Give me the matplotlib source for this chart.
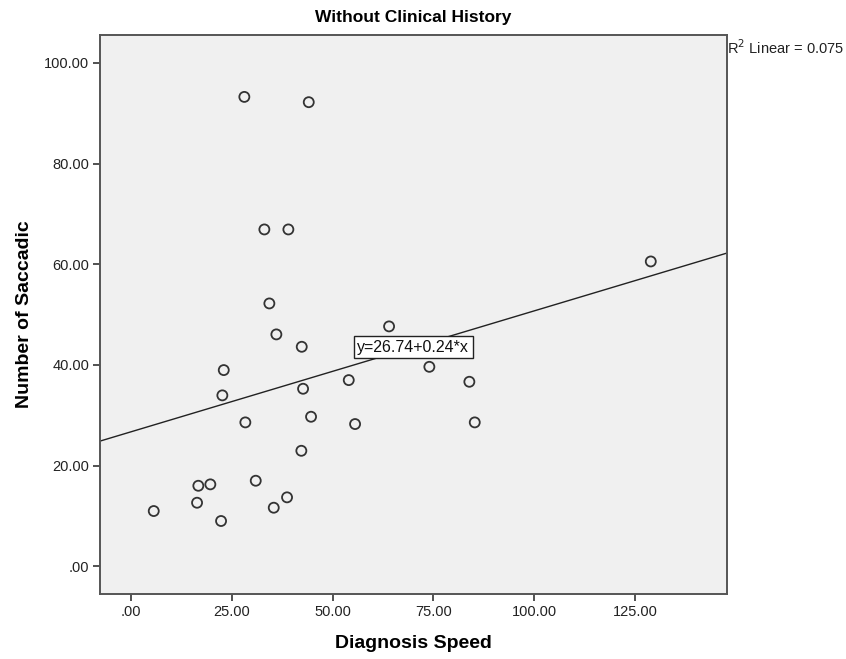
import matplotlib
matplotlib.use("Agg")
import matplotlib.pyplot as plt
import numpy as np

# data
diag_speed = [28.05, 44.04, 33.02, 38.98, 128.95, 34.26, 36.00, 63.98, 42.30, 22.94,
              73.98, 53.97, 83.91, 42.63, 22.59, 44.61, 28.30, 55.54, 85.25, 42.20,
              30.88, 19.61, 16.63, 38.65, 16.31, 5.56, 35.35, 22.27]
n_saccadic = [93.25, 92.20, 66.92, 66.92, 60.56, 52.22, 46.07, 47.66, 43.61, 38.98,
              39.63, 36.99, 36.66, 35.27, 33.96, 29.71, 28.59, 28.26, 28.59, 22.95,
              17.00, 16.28, 16.00, 13.70, 12.63, 10.98, 11.64, 9.00]
intercept = 26.74
slope = 0.24
r2 = 0.075
x_ticks = [0, 25, 50, 75, 100, 125]
y_ticks = [0, 20, 40, 60, 80, 100]

plt.rcParams['font.family'] = ['Liberation Sans', 'DejaVu Sans']

fig = plt.figure(figsize=(8.46, 6.59), dpi=100)
ax = fig.add_axes([0.1186, 0.0991, 0.7404, 0.8482])
ax.set_facecolor('#f0f0f0')

xlim = (-7.7, 147.8)
ylim = (-5.44, 105.6)

# fit line
xs = np.array(xlim)
ax.plot(xs, intercept + slope * xs, color='#222222', lw=1.0, zorder=2)

ax.scatter(diag_speed, n_saccadic, s=52, facecolors='none', edgecolors='#333333',
           linewidths=1.3, zorder=3)

bx = 70
ax.text(bx, intercept + slope * bx, 'y=26.74+0.24*x', ha='center', va='center',
        fontsize=11.5, color='#111111', zorder=4,
        bbox=dict(boxstyle='square,pad=0.22', fc='white', ec='#222222', lw=1.0))

ax.set_xlim(xlim)
ax.set_ylim(ylim)
ax.set_xticks(x_ticks)
ax.set_xticklabels(['.00' if v == 0 else '%.2f' % v for v in x_ticks])
ax.set_yticks(y_ticks)
ax.set_yticklabels(['.00' if v == 0 else '%.2f' % v for v in y_ticks])
ax.tick_params(direction='out', length=5, width=1.2, color='#333333',
               labelsize=10.5, labelcolor='#222222', pad=3)
for sp in ax.spines.values():
    sp.set_color('#555555')
    sp.set_linewidth(1.4)

ax.set_title('Without Clinical History', fontweight='bold', fontsize=12.5, pad=9)
ax.set_xlabel('Diagnosis Speed', fontweight='bold', fontsize=14, labelpad=12)
ax.set_ylabel('Number of Saccadic', fontweight='bold', fontsize=14, labelpad=8)

fig.text(0.8592, 0.928, 'R$^2$ Linear = %.3f' % r2, fontsize=10.5, color='#222222',
         ha='left', va='center')

fig.savefig('out.png', dpi=100, facecolor='white')
